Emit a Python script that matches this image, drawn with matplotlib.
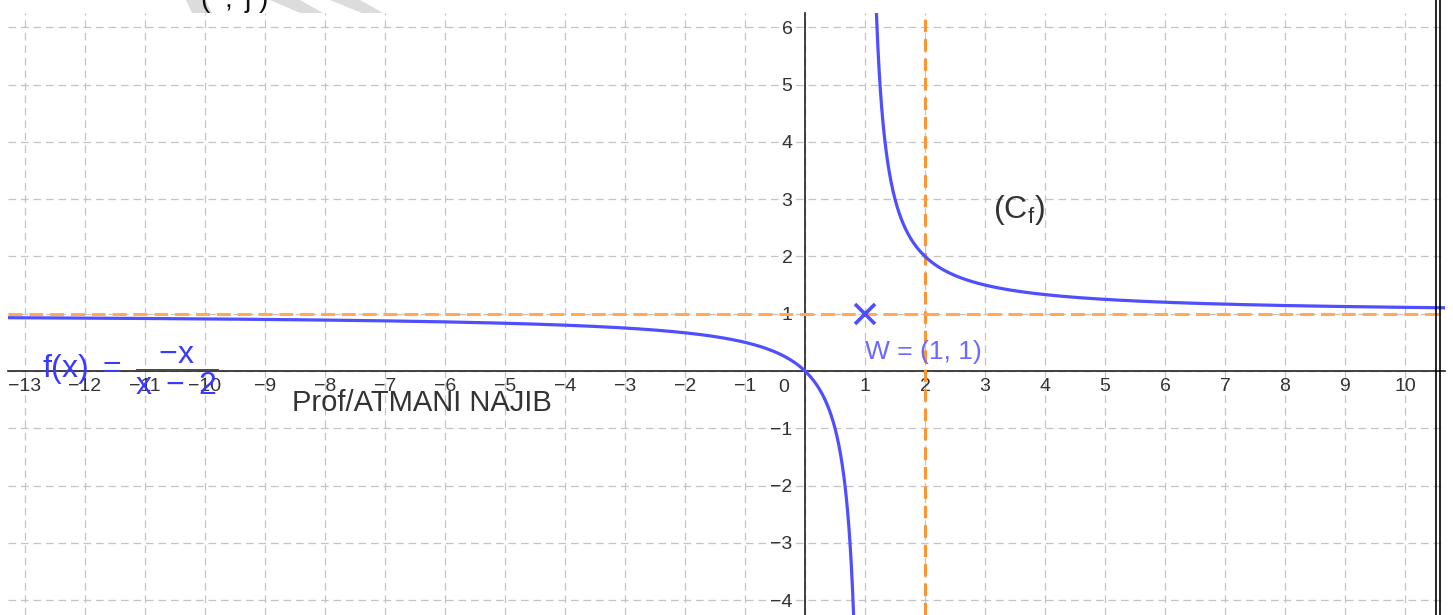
import numpy as np
import matplotlib
matplotlib.use('Agg')
from matplotlib import pyplot as plt
from matplotlib.patches import Polygon
from matplotlib.lines import Line2D

plt.rcParams['font.family'] = ['Liberation Sans', 'DejaVu Sans']
plt.rcParams['mathtext.fontset'] = 'custom'
plt.rcParams['mathtext.rm'] = 'Liberation Sans'
plt.rcParams['mathtext.it'] = 'Liberation Sans'
plt.rcParams['lines.scale_dashes'] = False

# data
x_ticks = list(range(-13, 11))
y_ticks = list(range(-4, 7))
asym_v = 1.0      # vertical asymptote of the curve
asym_h = 1.0      # horizontal asymptote of the curve
orange_v = 2.0    # dashed orange vertical line
orange_h = 1.0    # dashed orange horizontal line
W = (1, 1)
f_label = r'$f(x)\ =\ \dfrac{-x}{x\ -\ 2}$'
curve_label = r'$(\mathregular{C_f})$'
author = 'Prof/ATMANI NAJIB'

W_px, H_px = 1453, 615
fig = plt.figure(figsize=(W_px / 100, H_px / 100), dpi=100)
ax = fig.add_axes([8 / W_px, 0, (1445 - 8) / W_px, (615 - 13) / H_px])
ax.set_xlim((8 - 805) / 60, (1445 - 805) / 60)
ax.set_ylim((371 - 615) / 57.3, (371 - 13) / 57.3)

# grid
ax.set_xticks(x_ticks)
ax.set_yticks(y_ticks)
ax.grid(True, color='#c4c4c4', lw=0.9, linestyle=(0, (5.5, 3.5)))
ax.set_axisbelow(True)

# axes through origin
for s in ['top', 'right']:
    ax.spines[s].set_visible(False)
ax.spines['left'].set_position(('data', 0))
ax.spines['bottom'].set_position(('data', 0))
for s in ['left', 'bottom']:
    ax.spines[s].set_color('#222222')
    ax.spines[s].set_linewidth(1.2)
    ax.spines[s].set_zorder(2.5)
ax.set_xticklabels(['' if v == 0 else f'\u2212{-v}' if v < 0 else str(v) for v in x_ticks])
ax.set_yticklabels(['' if v == 0 else f'\u2212{-v}' if v < 0 else str(v) for v in y_ticks])
ax.tick_params(axis='x', length=0, pad=5, labelsize=14, labelcolor='#333333')
ax.tick_params(axis='y', length=0, pad=9, labelsize=14, labelcolor='#333333')
ax.annotate('0', (0, 0), xytext=(-15, -12), textcoords='offset points',
            ha='center', va='center', fontsize=14, color='#333333')

# asymptote lines
ax.axvline(orange_v, color='#ff9433', lw=2.2, linestyle=(0, (9, 5)), zorder=3)
ax.axhline(orange_h, color='#ffaa58', lw=2.2, linestyle=(0, (10, 5)), zorder=3)

# curve y = x / (x - 1), two branches
xl = np.linspace(-14, asym_v - 0.05, 1500)
xr = np.linspace(asym_v + 0.05, 11, 1500)
for xs in (xl, xr):
    ax.plot(xs, xs / (xs - asym_v), color='#4f4fff', lw=2.3, zorder=4,
            solid_capstyle='round')

# point W
ax.plot([W[0]], [W[1]], marker='x', ms=14, mew=2.6, color='#4f4fff', zorder=5)
ax.text(W[0], 0.33, 'W = (1, 1)', color='#6a6aff', fontsize=19,
        ha='left', va='center', zorder=5)

# labels
ax.text(3.13, 2.81, curve_label, color='#333333', fontsize=23,
        ha='left', va='center', zorder=5)
ax.text(-12.72, 0.0, f_label, color='#3a3aff', fontsize=23,
        ha='left', va='center', zorder=5)
ax.text(-8.55, -0.56, author, color='#333333', fontsize=21,
        ha='left', va='center', zorder=5)

# clipped heading and watermark stripes at the top
fig.text(200 / W_px, 1.0, r'$(\ \ ;\ \jmath\ )$', fontsize=20,
         family='DejaVu Serif', ha='left', va='center', color='#111111')
for p in [[(186, 0), (205, 0), (212, 13), (192, 13)],
          [(270, 0), (300, 0), (323, 13), (300, 13)],
          [(330, 0), (360, 0), (383, 13), (362, 13)]]:
    fig.patches.append(Polygon([(x / W_px, 1 - y / H_px) for x, y in p],
                               closed=True, color='#dcdcdc', lw=0,
                               transform=fig.transFigure, figure=fig))

# double frame on the right
for xp in (1436, 1439.5):
    fig.add_artist(Line2D([xp / W_px, xp / W_px], [0, 1], color='black', lw=1.2,
                          transform=fig.transFigure))

fig.savefig('out.png', dpi=100)
